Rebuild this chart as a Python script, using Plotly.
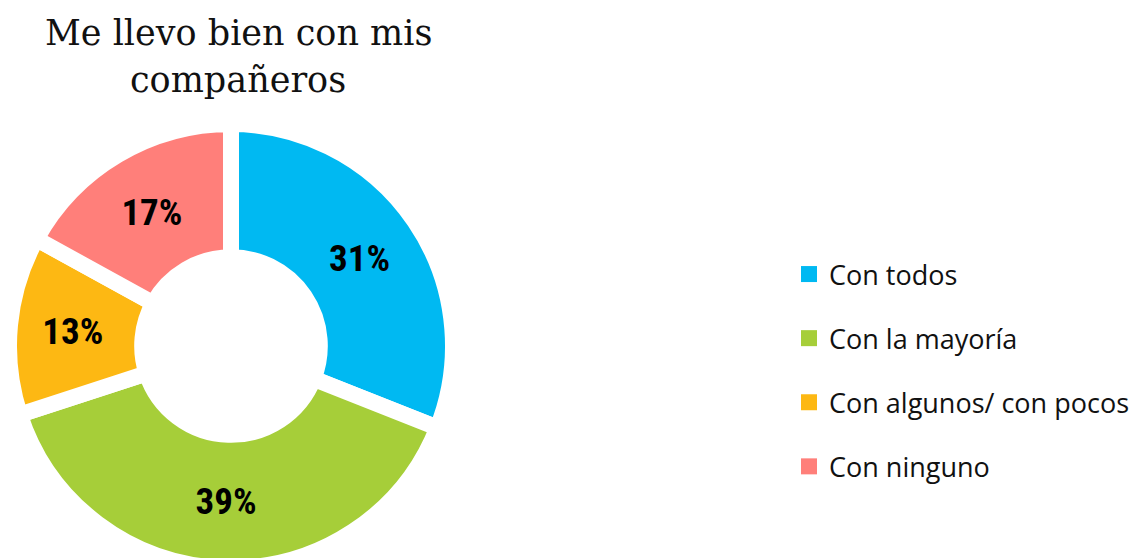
import plotly.graph_objects as go

# données
categorias = ['Con todos', 'Con la mayoría', 'Con algunos/ con pocos', 'Con ninguno']
porcentajes = [31, 39, 13, 17]
colores = ['#00B9F2', '#A6CE39', '#FDB813', '#FF7F7A']
titulo = ['Me llevo bien con mis', 'compañeros']

W, H = 1140, 570   # un peu plus haut que la fenêtre : le bas du donut est coupé
cx, cy, R = 231, 346, 222  # centre et rayon du donut en pixels

fig = go.Figure()

fig.add_trace(go.Pie(
    labels=categorias,
    values=porcentajes,
    sort=False,
    direction='clockwise',
    rotation=0,
    hole=0.40,
    marker=dict(colors=colores, line=dict(color='white', width=16)),
    texttemplate='%{value}%',
    textposition='inside',
    insidetextorientation='horizontal',
    textfont=dict(family='Roboto Condensed, Roboto', size=37, color='black', weight='bold'),
    domain=dict(x=[(cx - R) / W, (cx + R) / W], y=[1 - (cy + R) / H, 1 - (cy - R) / H]),
    showlegend=False,
    hoverinfo='label+percent',
))

# légende : une trace factice par catégorie pour espacer les entrées
for i, (cat, col) in enumerate(zip(categorias, colores)):
    fig.add_trace(go.Scatter(
        x=[None], y=[None], mode='markers', name=cat,
        marker=dict(symbol='square', size=17, color=col),
        legendgroup=f'g{i}',
    ))

# titre sur deux lignes
for ligne, ypix in zip(titulo, [33, 80]):
    fig.add_annotation(
        text=ligne, xref='paper', yref='paper', x=238 / W, y=1 - ypix / H,
        xanchor='center', yanchor='middle', showarrow=False,
        font=dict(family='DejaVu Serif', size=35, color='#111111'),
    )

fig.update_layout(
    width=W, height=H,
    margin=dict(l=0, r=0, t=0, b=0),
    paper_bgcolor='white', plot_bgcolor='white',
    xaxis=dict(visible=False), yaxis=dict(visible=False),
    legend=dict(
        x=789 / W, xanchor='left', y=1 - 250 / H, yanchor='top',
        font=dict(family='Open Sans', size=27, color='#111111'),
        tracegroupgap=26, bgcolor='rgba(0,0,0,0)',
    ),
)

fig.write_html('out.html', config={'displayModeBar': False},
               post_script="document.body.style.margin='0';document.body.style.overflow='hidden';")
